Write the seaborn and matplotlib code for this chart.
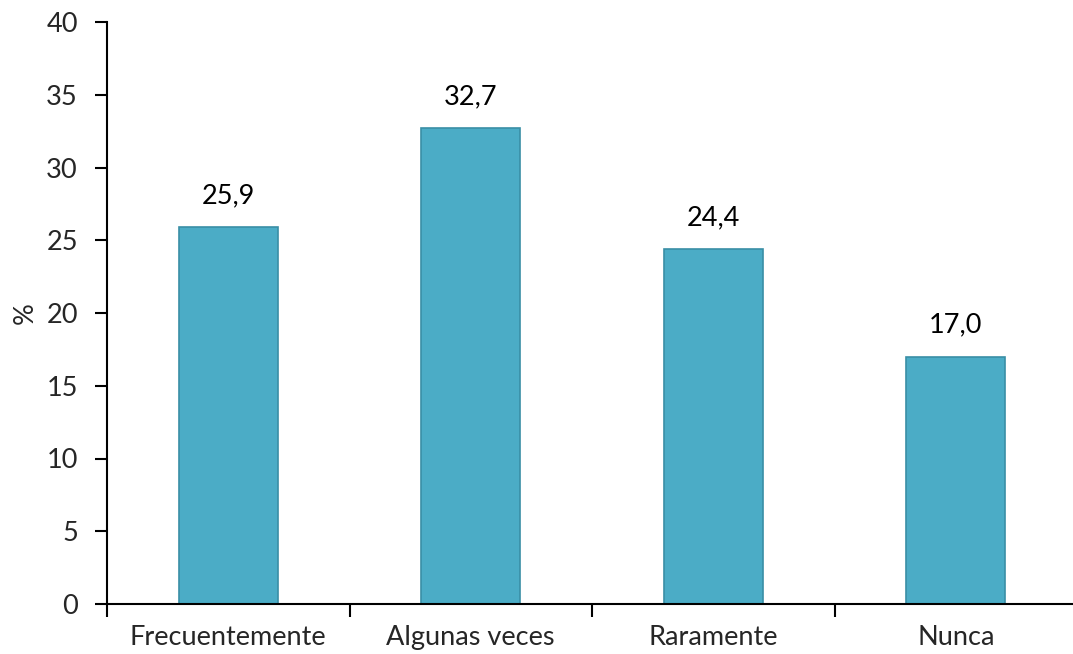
import matplotlib
matplotlib.use('Agg')
import matplotlib.pyplot as plt
import seaborn as sns
import pandas as pd
from matplotlib.ticker import FixedLocator

sns.set_style("white")
plt.rcParams['font.family'] = ['Lato', 'DejaVu Sans']

# data
categories = ["Frecuentemente", "Algunas veces", "Raramente", "Nunca"]
values = [25.9, 32.7, 24.4, 17.0]
value_labels = ["25,9", "32,7", "24,4", "17,0"]

df = pd.DataFrame({"cat": categories, "pct": values})

fig = plt.figure(figsize=(10.73, 6.54), dpi=100)
ax = fig.add_axes([107 / 1073, 1 - 604 / 654, 970 / 1073, (604 - 22) / 654])

sns.barplot(data=df, x="cat", y="pct", color="#4BACC6", width=0.41,
            edgecolor="#3A8FA6", linewidth=1.2, saturation=1, ax=ax)

for i, (v, lab) in enumerate(zip(values, value_labels)):
    ax.text(i, v + 1.3, lab, ha="center", va="bottom", fontsize=19.5, color="#000000")

ax.set_ylim(0, 40)
ax.set_xlim(-0.5, 3.5)
ax.set_yticks(range(0, 41, 5))
ax.set_xlabel("")
ax.set_ylabel("%", fontsize=19.5, labelpad=6)

# category boundary ticks, labels centred without ticks
ax.xaxis.set_minor_locator(FixedLocator([-0.5, 0.5, 1.5, 2.5, 3.5]))
ax.tick_params(axis="x", which="major", length=0, labelsize=19.5, pad=15)
ax.tick_params(axis="x", which="minor", length=9, width=1.5, direction="out", color="black", bottom=True)
ax.tick_params(axis="y", length=9, width=1.5, direction="out", color="black", labelsize=19.5, pad=12, left=True)

for s in ["top", "right"]:
    ax.spines[s].set_visible(False)
for s in ["left", "bottom"]:
    ax.spines[s].set_color("black")
    ax.spines[s].set_linewidth(1.5)

fig.savefig("out.png", dpi=100)
plt.close(fig)
